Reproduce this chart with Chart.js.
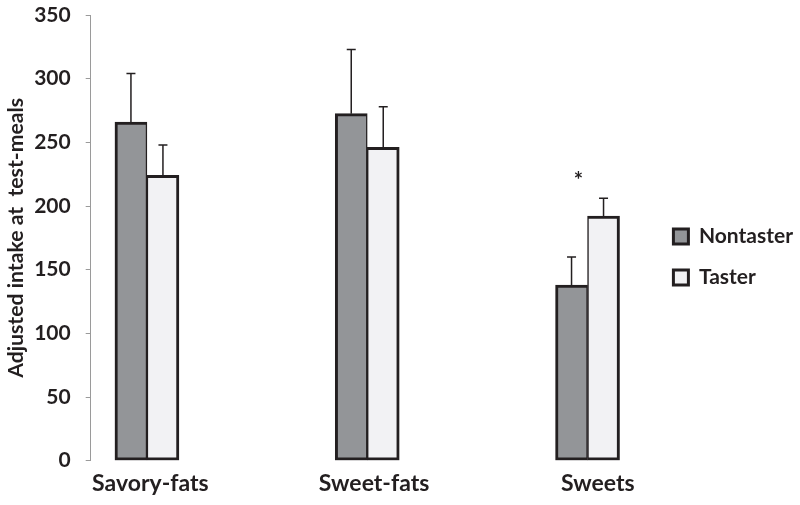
<!DOCTYPE html>
<html>
<head>
<meta charset="utf-8">
<script src="https://cdn.jsdelivr.net/npm/chart.js@4.4.1/dist/chart.umd.min.js"></script>
<style>
  html, body { margin: 0; padding: 0; background: #fff; }
  #wrap { width: 800px; height: 505px; }
</style>
</head>
<body>
<div id="wrap"><canvas id="c" width="800" height="505"></canvas></div>
<script>
// data
const categories = ['Savory-fats', 'Sweet-fats', 'Sweets'];
const nontaster = [266, 272.5, 138];
const nontasterErr = [38, 50.5, 22];
const taster = [224, 246, 192];
const tasterErr = [24, 32, 14];
const signif = ['', '', '*'];
const yTicks = [0, 50, 100, 150, 200, 250, 300, 350];
const yTitle = 'Adjusted intake at  test-meals';

const INK = '#231f20';
const FONT = 'Lato';
const catPos = categories.map((c, i) => i + 1);

// error bars (upper side only), significance marks, y title centred on the plot area
const extras = {
  id: 'extras',
  afterDatasetsDraw(chart) {
    const { ctx, chartArea } = chart;
    const x = chart.scales.x, y = chart.scales.y;
    const errs = [nontasterErr, tasterErr];
    ctx.save();
    ctx.strokeStyle = INK;
    ctx.lineWidth = 1.5;
    chart.data.datasets.forEach((ds, di) => {
      const meta = chart.getDatasetMeta(di);
      meta.data.forEach((bar, i) => {
        const v = ds.data[i].y;
        const yTop = y.getPixelForValue(v + errs[di][i]);
        const yBase = y.getPixelForValue(v);
        ctx.beginPath();
        ctx.moveTo(bar.x, yBase);
        ctx.lineTo(bar.x, yTop);
        ctx.moveTo(bar.x - 4.5, yTop);
        ctx.lineTo(bar.x + 4.5, yTop);
        ctx.stroke();
      });
    });
    ctx.fillStyle = INK;
    ctx.font = 'bold 22px ' + FONT;
    ctx.textAlign = 'center';
    ctx.textBaseline = 'middle';
    signif.forEach((s, i) => {
      if (!s) return;
      const top = Math.max(nontaster[i] + nontasterErr[i], taster[i] + tasterErr[i]);
      ctx.fillText(s, x.getPixelForValue(catPos[i]) - 9, y.getPixelForValue(top) - 17);
    });

    ctx.translate(16, (chartArea.top + chartArea.bottom) / 2);
    ctx.rotate(-Math.PI / 2);
    ctx.font = 'bold 21.2px ' + FONT;
    ctx.fillText(yTitle, 0, 0);
    ctx.restore();
  }
};

new Chart(document.getElementById('c'), {
  type: 'bar',
  data: {
    datasets: [
      {
        label: 'Nontaster',
        data: catPos.map((p, i) => ({ x: p, y: nontaster[i] })),
        backgroundColor: '#939598',
        borderColor: INK,
        borderWidth: { top: 3, left: 3, bottom: 3, right: 1.5 },
        borderSkipped: false
      },
      {
        label: 'Taster',
        data: catPos.map((p, i) => ({ x: p, y: taster[i] })),
        backgroundColor: '#f2f2f4',
        borderColor: INK,
        borderWidth: { top: 3, left: 1.5, bottom: 3, right: 3 },
        borderSkipped: false
      }
    ]
  },
  options: {
    responsive: false,
    animation: false,
    barThickness: 32,
    layout: { padding: { top: 0, left: 0, right: -3, bottom: 0 } },
    plugins: {
      tooltip: { enabled: false },
      legend: {
        position: 'right',
        title: { display: true, text: '', padding: { top: 8, bottom: 0 }, font: { size: 1 } },
        labels: {
          boxWidth: 15,
          boxHeight: 15,
          padding: 20,
          color: INK,
          font: { family: FONT, size: 21, weight: 'bold' },
          generateLabels(chart) {
            return chart.data.datasets.map((ds, i) => ({
              text: ds.label,
              fillStyle: ds.backgroundColor,
              strokeStyle: INK,
              lineWidth: 3,
              fontColor: INK,
              datasetIndex: i
            }));
          }
        }
      }
    },
    scales: {
      x: {
        type: 'linear',
        offset: false,
        min: 0.7447,
        max: 3.299,
        afterBuildTicks(scale) {
          // category labels sit a little right of the bar pairs, as in the source figure
          scale.ticks = catPos.map(p => ({ value: p * 1.0155 }));
        },
        afterFit(scale) { scale.height = 44.3; },
        ticks: {
          color: INK,
          padding: 9.5,
          font: { family: FONT, size: 23, weight: 'bold' },
          callback: (v, i) => categories[i]
        },
        grid: { display: false, drawTicks: false },
        border: { display: false }
      },
      y: {
        min: 0,
        max: 350,
        afterBuildTicks(scale) {
          scale.ticks = yTicks.map(v => ({ value: v }));
        },
        afterFit(scale) {
          scale.width = 90.7;
          scale.paddingTop = 15;
          scale.paddingBottom = 0;
        },
        ticks: {
          color: INK,
          padding: 15,
          font: { family: FONT, size: 21, weight: 'bold' }
        },
        grid: { drawOnChartArea: false, drawTicks: true, tickLength: 5, color: '#9a9a9a' },
        border: { display: true, color: '#9a9a9a', width: 1 }
      }
    }
  },
  plugins: [extras]
});
</script>
</body>
</html>
